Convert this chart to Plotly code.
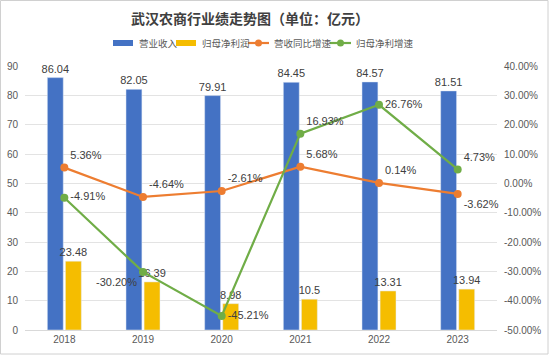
import plotly.graph_objects as go

years = ["2018", "2019", "2020", "2021", "2022", "2023"]
revenue = [86.04, 82.05, 79.91, 84.45, 84.57, 81.51]
net_profit = [23.48, 16.39, 8.98, 10.5, 13.31, 13.94]
rev_growth = [5.36, -4.64, -2.61, 5.68, 0.14, -3.62]
profit_growth = [-4.91, -30.20, -45.21, 16.93, 26.76, 4.73]

left_ticks = list(range(0, 91, 10))
right_ticks = list(range(-50, 41, 10))

series_names = ["营业收入", "归母净利润", "营收同比增速", "归母净利增速"]
series_colors = ["#4472C4", "#F5BD00", "#ED7D31", "#70AD47"]

W, H = 550, 357
ml, mr, mt, mb = 25, 53, 66, 27
pw, ph = W - ml - mr, H - mt - mb


def px_x(p):
    return (p - ml) / pw


def px_y(p):
    return (H - mb - p) / ph


FONT = "Liberation Sans, Arial, Noto Sans CJK SC, sans-serif"
CJK = "Noto Sans CJK SC, sans-serif"
LABEL = dict(family=FONT, size=11, color="#404040")
TICK = dict(family=FONT, size=10, color="#595959")

fig = go.Figure()
fig.add_trace(go.Bar(
    x=years, y=revenue, name=series_names[0], marker_color=series_colors[0],
    text=[f"{v:.2f}" for v in revenue], textposition="outside",
    textfont=LABEL, cliponaxis=False, constraintext="none",
))
fig.add_trace(go.Bar(
    x=years, y=net_profit, name=series_names[1], marker_color=series_colors[1],
    text=[f"{v:g}" for v in net_profit], textposition="outside",
    textfont=LABEL, cliponaxis=False, constraintext="none",
))
fig.add_trace(go.Scatter(
    x=years, y=rev_growth, name=series_names[2], yaxis="y2",
    mode="lines+markers+text", line=dict(color=series_colors[2], width=2.2),
    marker=dict(size=8, color=series_colors[2]),
    text=[f"{v:.2f}%" for v in rev_growth],
    textposition=["top right", "top right", "top right", "top right", "top right", "bottom right"],
    textfont=LABEL, cliponaxis=False,
))
fig.add_trace(go.Scatter(
    x=years, y=profit_growth, name=series_names[3], yaxis="y2",
    mode="lines+markers+text", line=dict(color=series_colors[3], width=2.2),
    marker=dict(size=8, color=series_colors[3]),
    text=[f"{v:.2f}%" for v in profit_growth],
    textposition=["middle right", "bottom left", "middle right", "top right", "middle right", "top right"],
    textfont=LABEL, cliponaxis=False,
))

fig.update_layout(
    width=W, height=H,
    margin=dict(l=ml, r=mr, t=mt, b=mb, autoexpand=False),
    paper_bgcolor="white", plot_bgcolor="white",
    barmode="group", bargap=0.54, bargroupgap=0.12,
    showlegend=False,
    title=dict(text="<b>武汉农商行业绩走势图（单位：亿元）</b>",
               font=dict(family=CJK, size=14, color="#404040"),
               x=250 / W, xanchor="center", xref="container",
               y=1 - 19 / H, yanchor="middle", yref="container"),
    xaxis=dict(tickfont=TICK, showline=True, linecolor="#D9D9D9", linewidth=1, ticks=""),
    yaxis=dict(range=[0, 90], tickvals=left_ticks, showgrid=True,
               gridcolor="#E3E3E3", zeroline=False, tickfont=TICK,
               ticklabelstandoff=6),
    yaxis2=dict(range=[-50, 40], tickvals=right_ticks, overlaying="y", side="right",
                showgrid=False, zeroline=False,
                ticktext=[f"{v:.2f}%" for v in right_ticks],
                tickfont=TICK, ticklabelstandoff=6),
)

# custom compact legend (symbol start x, text start x, in pixels)
leg_sym_x = [113, 176, 248, 330]
leg_txt_x = [137, 200, 272, 354]
leg_y = 43
for i, name in enumerate(series_names):
    x0 = leg_sym_x[i]
    if i < 2:
        fig.add_shape(type="rect", xref="paper", yref="paper",
                      x0=px_x(x0), x1=px_x(x0 + 20),
                      y0=px_y(leg_y + 3), y1=px_y(leg_y - 3),
                      fillcolor=series_colors[i], line=dict(width=0))
    else:
        fig.add_shape(type="line", xref="paper", yref="paper",
                      x0=px_x(x0), x1=px_x(x0 + 21),
                      y0=px_y(leg_y), y1=px_y(leg_y),
                      line=dict(color=series_colors[i], width=2.2))
        fig.add_shape(type="circle", xref="paper", yref="paper",
                      x0=px_x(x0 + 10.5 - 3.5), x1=px_x(x0 + 10.5 + 3.5),
                      y0=px_y(leg_y + 3.5), y1=px_y(leg_y - 3.5),
                      fillcolor=series_colors[i], line=dict(width=0))
    fig.add_annotation(xref="paper", yref="paper", x=px_x(leg_txt_x[i]), y=px_y(leg_y),
                       xanchor="left", yanchor="middle", showarrow=False,
                       text=name, font=dict(family=CJK, size=9.5, color="#595959"))

fig.add_shape(type="rect", xref="paper", yref="paper",
              x0=px_x(0.5), x1=px_x(W - 2),
              y0=px_y(H - 3), y1=px_y(0.5),
              line=dict(color="#D0D0D0", width=1), layer="below")

fig.write_html("out.html", config={"displayModeBar": False},
               post_script="document.body.style.margin='0';")
